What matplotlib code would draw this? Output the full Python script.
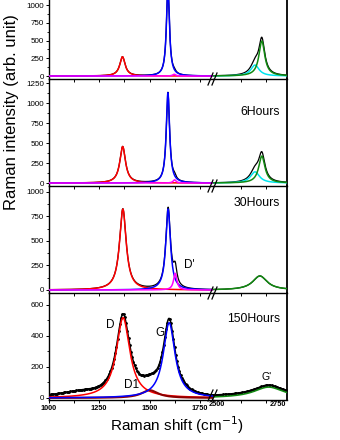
import numpy as np
import matplotlib
matplotlib.use('Agg')
import matplotlib.pyplot as plt
from matplotlib.lines import Line2D
from matplotlib.ticker import FixedLocator

plt.rcParams['font.family'] = ['Liberation Sans', 'DejaVu Sans']

# ---------------- data: fitted peak parameters ----------------
panel_labels = ['', '6Hours', '30Hours', '150Hours']
D_pos = [1366, 1367, 1368, 1369]
D_height = [272, 456, 826, 518]
D_fwhm = [32, 34, 40, 80]
G_pos = [1591, 1591, 1592, 1597]
G_height = [1250, 1129, 826, 485]
G_fwhm = [18, 20, 28, 70]
Dp_pos = [1622, 1624, 1627, 1625]
Dp_height = [25, 40, 170, 0]
Dp_fwhm = [18, 18, 20, 20]
D1_pos = [1501, 1501, 1501, 1501]
D1_height = [0, 0, 0, 50]
D1_fwhm = [100, 100, 100, 100]
G2_pos = [2684, 2684, 2676, 2712]
G2_height = [494, 337, 143, 70]
G2_fwhm = [29, 31, 72, 150]
G2b_pos = [2656, 2656, 2656, 2656]
G2b_height = [155, 140, 0, 0]
G2b_fwhm = [41, 45, 45, 45]
# extra background only present in the measured spectrum
bgL_pos, bgL_height, bgL_fwhm = 1150, [0, 0, 0, 30], 260
bgR_pos, bgR_height, bgR_fwhm = 2650, [0, 0, 0, 14], 800

y_limits = [(-42, 1250), (-37, 1300), (-31, 1061), (-13, 677)]
y_steps = [250, 250, 250, 200]
y_top_tick = [1000, 1250, 1000, 600]
left_range = (1000, 1814)
right_range = (2484, 2785)
left_ticklabels = [1000, 1250, 1500, 1750]
right_ticklabels = [2500, 2750]

# ---------------- layout helpers (pixels of a 340x440 canvas) ----------------
W, H = 340, 440
panel_px = [(-12.5, 79), (79, 186), (186, 293), (293, 400)]
xL0, xB, xR1 = 48.5, 213, 286.5


def fx(px):
    return px / W


def fy(py):
    return (H - py) / H


def lor(x, c, h, fwhm):
    return h / (1.0 + ((x - c) / (fwhm / 2.0)) ** 2)


fig = plt.figure(figsize=(3.4, 4.4), dpi=100)

xl = np.arange(left_range[0], left_range[1] + 1, 1.0)
xr = np.arange(right_range[0], right_range[1] + 1, 1.0)

RED, BLUE, MAG, GRN, CYN, DRED = '#ff0000', '#0000ff', '#ff00ff', '#118a11', '#00e5ee', '#8b0000'
lwc = 1.1

for i in range(4):
    top, bot = panel_px[i]
    axL = fig.add_axes([fx(xL0), fy(bot), fx(xB - xL0), (bot - top) / H])
    axR = fig.add_axes([fx(xB), fy(bot), fx(xR1 - xB), (bot - top) / H])
    for ax in (axL, axR):
        ax.set_facecolor('none')
        ax.set_ylim(*y_limits[i])
        ax.spines['top'].set_visible(False)
        for s in ax.spines.values():
            s.set_linewidth(1.0)
    axL.spines['right'].set_visible(False)
    axR.spines['left'].set_visible(False)
    axR.spines['right'].set_linewidth(1.3)
    axL.set_xlim(*left_range)
    axR.set_xlim(*right_range)

    # ---- left segment curves ----
    d = lor(xl, D_pos[i], D_height[i], D_fwhm[i])
    g = lor(xl, G_pos[i], G_height[i], G_fwhm[i])
    dp = lor(xl, Dp_pos[i], Dp_height[i], Dp_fwhm[i])
    d1 = lor(xl, D1_pos[i], D1_height[i], D1_fwhm[i])
    bl = lor(xl, bgL_pos, bgL_height[i], bgL_fwhm)
    totL = d + g + dp + d1 + bl
    if i == 3:
        axL.plot(xl, totL, color='black', lw=1.1, zorder=2)
        axL.plot(xl[::6], totL[::6], ls='none', marker='o', ms=1.0, color='black', zorder=2)
    else:
        axL.plot(xl, totL, color='black', lw=0.9, zorder=2)
    axL.plot(xl, d, color=RED, lw=lwc, zorder=3)
    if D1_height[i] > 0:
        axL.plot(xl, d1, color=DRED, lw=lwc + 0.4, zorder=3)
    axL.plot(xl, g, color=BLUE, lw=lwc, zorder=3)
    if Dp_height[i] > 0:
        axL.plot(xl, dp, color=MAG, lw=lwc, zorder=4)

    # ---- right segment curves ----
    g2 = lor(xr, G2_pos[i], G2_height[i], G2_fwhm[i])
    g2b = lor(xr, G2b_pos[i], G2b_height[i], G2b_fwhm[i])
    br = lor(xr, bgR_pos, bgR_height[i], bgR_fwhm)
    totR = g2 + g2b + br
    if i == 3:
        axR.plot(xr, totR, color='black', lw=1.1, zorder=2)
        axR.plot(xr[::6], totR[::6], ls='none', marker='o', ms=1.0, color='black', zorder=2)
    else:
        axR.plot(xr, totR, color='black', lw=0.9, zorder=2)
    if G2b_height[i] > 0:
        axR.plot(xr, g2b, color=CYN, lw=lwc, zorder=3)
    axR.plot(xr, g2, color=GRN, lw=lwc, zorder=4)

    # ---- ticks ----
    step = y_steps[i]
    axL.yaxis.set_major_locator(FixedLocator(np.arange(0, y_top_tick[i] + 1, step)))
    axL.yaxis.set_minor_locator(FixedLocator(np.arange(step / 2, y_top_tick[i] + step / 2 + 1, step)))
    axL.tick_params(axis='y', which='major', direction='out', length=2.5, width=0.7,
                    labelsize=5.8, pad=0.8)
    axL.tick_params(axis='y', which='minor', direction='out', length=1.5, width=0.6)
    axR.tick_params(axis='y', which='both', left=False, right=False, labelleft=False)

    axL.xaxis.set_major_locator(FixedLocator(left_ticklabels))
    axL.xaxis.set_minor_locator(FixedLocator([1125, 1375, 1625]))
    axR.xaxis.set_major_locator(FixedLocator(right_ticklabels))
    axR.xaxis.set_minor_locator(FixedLocator([2600, 2700]))
    for ax in (axL, axR):
        ax.tick_params(axis='x', which='major', direction='out', length=2.5, width=0.7,
                       labelsize=5.3, pad=1.0)
        ax.tick_params(axis='x', which='minor', direction='out', length=2.5, width=0.7)
    axR.tick_params(axis='x', which='major', length=0)
    if i < 3:
        axL.tick_params(axis='x', labelbottom=False)
        axR.tick_params(axis='x', labelbottom=False)
    else:
        for lab in axL.get_xticklabels() + axR.get_xticklabels():
            lab.set_fontweight('bold')

    # ---- axis break marks ----
    lo, hi = (6, -6) if i < 3 else (1, -10)
    for dx in (-2.5, 1.5):
        fig.add_artist(Line2D([fx(xB + dx - 2.5), fx(xB + dx + 2.5)],
                              [fy(bot + lo), fy(bot + hi)], color='black', lw=0.9))

    if panel_labels[i]:
        ypos = [0, 112, 203, 319][i]
        fig.text(fx(280), fy(ypos), panel_labels[i], ha='right', va='center', fontsize=8.8)

# peak annotations
fig.text(fx(110), fy(325), 'D', ha='center', va='center', fontsize=8.5)
fig.text(fx(160), fy(333), 'G', ha='center', va='center', fontsize=8.5)
fig.text(fx(132), fy(385), 'D1', ha='center', va='center', fontsize=8.5)
fig.text(fx(267), fy(377), "G'", ha='center', va='center', fontsize=7.5)
fig.text(fx(189), fy(265), "D'", ha='center', va='center', fontsize=8.5)

fig.text(fx(12), fy(112), 'Raman intensity (arb. unit)', rotation=90, ha='center',
         va='center', fontsize=12)
fig.text(fx(177), fy(425), 'Raman shift (cm$^{-1}$)', ha='center', va='center', fontsize=11)

fig.savefig('out.png', dpi=100)
